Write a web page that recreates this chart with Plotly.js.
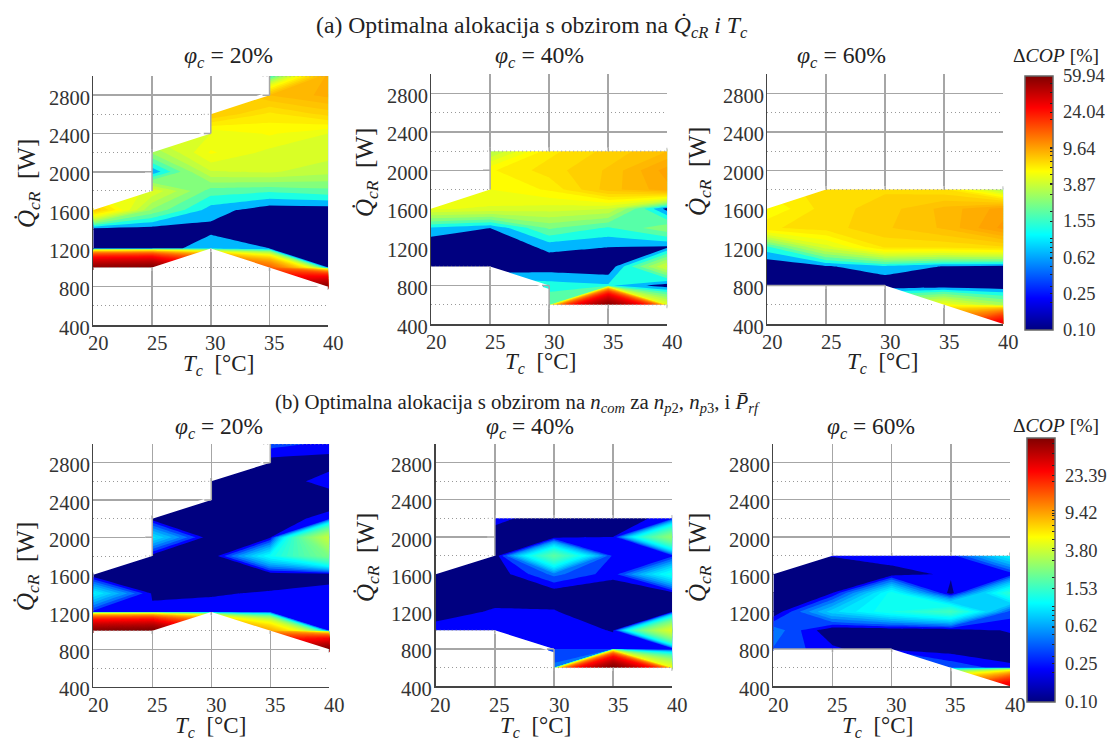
<!DOCTYPE html>
<html><head><meta charset="utf-8">
<script src="https://cdn.plot.ly/plotly-3.0.1.min.js"></script>
<style>html,body{margin:0;padding:0;background:#fff}#c{width:1110px;height:740px}</style></head>
<body><div id="c"></div>
<script>
const n = null;
const tempC = [20,25,30,35,40];
const loadW = [3000,2800,2600,2400,2200,2000,1800,1600,1400,1200,1000,800,600,400];
const yTicks = [400,800,1200,1600,2000,2400,2800];
const xTicks = [20,25,30,35,40];
const a20 = [[n,n,n,1.6,9.5],[n,n,n,8.5,9.3],[n,n,8,6.5,7.5],[n,n,4.9,5.6,4.9],[n,3.2,5.6,4.7,4.6],[n,.8,4.25,4.4,3.9],[n,4.8,2.2,2.0,2.3],[8,3,1.0,.3,.3],[.3,.35,.5,.15,.15],[.15,.15,1.2,.7,.15],[55,60,n,15,.7],[n,n,n,n,58],[n,n,n,n,n],[n,n,n,n,n]];
const a40 = [[n,n,n,n,n],[n,n,n,n,n],[n,n,n,n,n],[n,n,n,n,n],[n,3.5,6.5,7.5,8.5],[n,6,7,8,10],[n,5.5,6.2,8.2,9.5],[5,4.8,4.6,4.3,.4],[1.2,.7,2.6,1.8,3],[.1,.15,.85,.7,.6],[.1,.1,.3,.15,4.5],[n,n,1.6,1.4,.3],[n,n,2.5,58,5],[n,n,n,n,n]];
const a60 = [[n,n,n,n,n],[n,n,n,n,n],[n,n,n,n,n],[n,n,n,n,n],[n,n,n,n,n],[n,n,n,n,n],[n,7,7.2,6.8,3.5],[5.5,7,7.6,8.7,10],[6.6,7,7.8,8.6,10.5],[1.7,4.6,6.8,6.8,7.2],[.1,.6,1.2,.65,.5],[.1,.1,.1,.15,.1],[n,n,n,5.5,3.5],[n,n,n,n,32]];
const b20 = [[n,n,n,.4,.3],[n,n,n,.15,.15],[n,n,.1,.1,.3],[n,n,.1,.1,.1],[n,.15,.1,.1,.3],[n,1.0,.1,.2,3.8],[n,.15,.1,1.2,2.4],[.1,.1,.1,.1,.1],[1.1,.2,.2,.24,.33],[.28,.25,.3,.3,.3],[55,60,n,9,.3],[n,n,n,n,58],[n,n,n,n,n],[n,n,n,n,n]];
const b40 = [[n,n,n,n,n],[n,n,n,n,n],[n,n,n,n,n],[n,n,n,n,n],[n,.28,.1,.1,.3],[n,.12,.15,.22,2.8],[n,.1,2.0,.3,.3],[.1,.12,.5,.27,1.3],[.1,.1,.14,.1,.17],[.1,.25,.23,.1,.2],[.33,.3,.3,.21,4.5],[n,n,.34,.3,.2],[n,n,.5,58,5],[n,n,n,n,n]];
const b60 = [[n,n,n,n,n],[n,n,n,n,n],[n,n,n,n,n],[n,n,n,n,n],[n,n,n,n,n],[n,n,n,n,n],[n,.23,.3,.27,1.1],[.1,.1,.15,.25,.25],[.1,.22,1.25,.15,1.5],[.1,.9,1.3,1.7,.4],[.55,.1,.1,.12,.24],[.45,.25,.1,.14,.1],[n,n,n,.45,.26],[n,n,n,n,32]];
const cbTopVals = [0.10,0.25,0.62,1.55,3.87,9.64,24.04,59.94];
const cbBotVals = [0.10,0.25,0.62,1.53,3.80,9.42,23.39];
const cbMinor = [.2,.3,.4,.5,.6,.7,.8,.9,1,2,3,4,5,6,7,8,9,10,20,30,40,50];

const W=1110,H=740;
const jet=[[0,[0,0,128]],[.125,[0,0,255]],[.375,[0,255,255]],[.625,[255,255,0]],[.875,[255,0,0]],[1,[128,0,0]]];
function jetAt(t){t=Math.max(0,Math.min(1,t));for(let i=1;i<jet.length;i++){if(t<=jet[i][0]){const a=jet[i-1],b=jet[i],f=(t-a[0])/(b[0]-a[0]);return 'rgb('+a[1].map((c,j)=>Math.round(c+(b[1][j]-c)*f)).join(',')+')';}}return 'rgb(128,0,0)';}
const jetScale=jet.map(s=>[s[0],'rgb('+s[1].join(',')+')']);
function bandScale(start,end,size,vmax){
  const nc=Math.floor((end-start)/size)+1,lo=Math.log10(.1),hi=Math.log10(vmax),s=[];
  for(let k=0;k<=nc;k++){const v=Math.max(.1,start+(k-1)*size);s.push([k/nc,jetAt((Math.log10(v)-lo)/(hi-lo))]);}
  return s;
}
const topBand={start:.1,end:59.9,size:.6},botBand={start:.1,end:58,size:.12};
const panels=[
 {z:a20,x0:93.3,x1:328.3,y0:76,y1:325,b:topBand,vm:59.94,t:'20%',tx:228,ty:57,xtx:218,xty:365,ytx:28,yty:184,lab:343},
 {z:a40,x0:431,x1:667.3,y0:74.3,y1:324,b:topBand,vm:59.94,t:'40%',tx:539,ty:57,xtx:540,xty:363,ytx:367,yty:173,lab:342},
 {z:a60,x0:767,x1:1003.3,y0:74.3,y1:324,b:topBand,vm:59.94,t:'60%',tx:841,ty:57,xtx:882,xty:363,ytx:699,yty:172,lab:342},
 {z:b20,x0:93.3,x1:329.3,y0:444,y1:686.7,b:botBand,vm:58,t:'20%',tx:219,ty:428,xtx:210,xty:727,ytx:27,yty:567,lab:705},
 {z:b40,x0:435.7,x1:672.3,y0:443.7,y1:686.3,b:botBand,vm:58,t:'40%',tx:530,ty:428,xtx:535,xty:727,ytx:367,yty:558,lab:705},
 {z:b60,x0:773.3,x1:1010,y0:443.7,y1:686.3,b:botBand,vm:58,t:'60%',tx:871,ty:428,xtx:877,xty:727,ytx:699,yty:558,lab:705}
];
const serif='Liberation Serif',ink='#333';
const data=[],layout={width:W,height:H,margin:{l:0,r:0,t:0,b:0},paper_bgcolor:'#fff',plot_bgcolor:'#fff',showlegend:false,font:{family:serif,color:ink,size:20},annotations:[]};
const note=(text,x,y,size,angle,anchor,color)=>layout.annotations.push({text,x:x/W,y:1-y/H,xref:'paper',yref:'paper',xanchor:anchor||'center',yanchor:'middle',showarrow:false,borderpad:0,font:{family:serif,size,color:color||'#222'},textangle:angle||0});
const gridCol='#a6a6a6',dotCol='#999';
function edgePath(z,side){
  const ys=tempC.map((_,c)=>{const v=loadW.filter((_,r)=>z[r][c]!==null);return side>0?Math.max(...v):Math.min(...v);});
  const p=[[tempC[0],ys[0]]];
  for(let i=1;i<ys.length;i++){
    const d=ys[i]-ys[i-1];
    if(Math.abs(d)>200)p.push([tempC[i],ys[i-1]+Math.sign(d)*200]);
    p.push([tempC[i],ys[i]]);
  }
  return {p,ys};
}
function edgeTraces(z,id){
  const dy=35,dx=.6,wx=[],wy=[],gx=[],gy=[],mx=[],my=[];
  const seg=(ax,ay,x,y)=>{ax.push(x[0],x[1],null);ay.push(y[0],y[1],null);};
  [1,-1].forEach(side=>{
    const {p,ys}=edgePath(z,side);
    p.forEach(q=>{wx.push(q[0]);wy.push(q[1]);});
    p.slice().reverse().forEach(q=>{wx.push(q[0]);wy.push(q[1]+side*dy);});
    wx.push(null);wy.push(null);
    tempC.forEach((x,c)=>{if(c>0)seg(gx,gy,[x,x],[ys[c],ys[c]+side*dy]);});
    for(let i=1;i<p.length;i++){
      const a=p[i-1],b=p[i];
      if(a[0]===b[0]){
        const lo=Math.min(a[1],b[1]),hi=Math.max(a[1],b[1]);
        const yl=side<0?lo-dy:lo,yh=side>0?hi+dy:hi;
        wx.push(b[0]-dx,b[0],b[0],b[0]-dx,b[0]-dx,null);wy.push(yl,yl,yh,yh,yl,null);
        seg(gx,gy,[b[0],b[0]],[yl,yh]);
        loadW.filter(y=>y>=yl&&y<=yh).forEach(y=>{
          if(yTicks.includes(y))seg(gx,gy,[b[0]-dx,b[0]],[y,y]);else seg(mx,my,[b[0]-dx,b[0]],[y,y]);
        });
      } else if(a[1]===b[1]){
        if(yTicks.includes(a[1]))seg(gx,gy,[a[0],b[0]],[a[1],a[1]]);else seg(mx,my,[a[0],b[0]],[a[1],a[1]]);
      }
    }
  });
  const base={type:'scatter',xaxis:'x'+id,yaxis:'y'+id,hoverinfo:'skip',mode:'lines'};
  return [
    {...base,x:wx,y:wy,fill:'toself',fillcolor:'#fff',line:{width:0}},
    {...base,x:gx,y:gy,line:{color:gridCol,width:1.5}},
    {...base,x:mx,y:my,line:{color:dotCol,width:1,dash:'1px,3px'}}
  ];
}
panels.forEach((p,i)=>{
  const id=i?String(i+1):'',xa='xaxis'+id,ya='yaxis'+id;
  const big=i<3?23.7:23.4;
  layout[xa]={domain:[p.x0/W,p.x1/W],range:[20,40],anchor:'y'+id,tickvals:xTicks,ticks:'',showticklabels:false,showgrid:true,gridcolor:gridCol,gridwidth:1.5,zeroline:false,showline:true,linecolor:'#444',linewidth:1.5,fixedrange:true};
  layout[ya]={domain:[1-p.y1/H,1-p.y0/H],range:[400,3000],anchor:'x'+id,tickvals:yTicks,ticks:'',showticklabels:false,showgrid:true,gridcolor:gridCol,gridwidth:1.5,zeroline:false,showline:true,linecolor:'#444',linewidth:1.5,fixedrange:true,
    minor:{showgrid:true,griddash:'1px,3px',gridcolor:dotCol,gridwidth:1,dtick:400,tick0:600,ticks:''}};
  data.push({type:'contour',x:tempC,y:loadW,z:p.z,xaxis:'x'+id,yaxis:'y'+id,connectgaps:false,autocontour:false,showscale:false,hoverinfo:'skip',
    contours:{coloring:'fill',start:p.b.start,end:p.b.end,size:p.b.size,showlines:false},line:{width:0,smoothing:0},
    colorscale:bandScale(p.b.start,p.b.end,p.b.size,p.vm)});
  data.push(...edgeTraces(p.z,id));
  xTicks.forEach(v=>note(String(v),p.x0+(v-20)/20*(p.x1-p.x0)+5,p.lab,20.5,0,'center',ink));
  yTicks.forEach(v=>note(String(v),p.x0-2.5,p.y1-(v-400)/2600*(p.y1-p.y0)+2.5,20.5,0,'right',ink));
  note('<i>φ</i><sub><i>c</i></sub> = '+p.t,p.tx,p.ty,big);
  note('<i>T</i><sub><i>c</i></sub>  [°C]',p.xtx,p.xty,23);
  note('<i>Q̇</i><sub><i>cR</i></sub>  [W]',p.ytx,p.yty,25,-90);
});
function colorbarTrace(vals,minor,vmax,x0,x1,y0,y1,ax){
  const lo=Math.log10(.1),hi=Math.log10(vmax);
  const extra=minor.filter(v=>v<=vmax);
  vals.forEach(v=>note(v.toFixed(2),x1+9,y1-(Math.log10(v)-lo)/(hi-lo)*(y1-y0),18.5,0,'left',ink));
  return {type:'scatter',mode:'markers',x:[0,0],y:[0,0],xaxis:'x'+ax,yaxis:'y'+ax,hoverinfo:'skip',
    marker:{size:1,opacity:0,color:[lo,hi],cmin:lo,cmax:hi,colorscale:jetScale,showscale:true,
      colorbar:{x:x0/W,xanchor:'left',xref:'paper',thickness:x1-x0,thicknessmode:'pixels',y:1-y1/H,yanchor:'bottom',yref:'paper',len:(y1-y0)/H,lenmode:'fraction',xpad:0,ypad:0,
        outlinecolor:'#666',outlinewidth:1.5,borderwidth:0,ticks:'inside',ticklen:3,tickwidth:1,tickcolor:'#222',showticklabels:false,
        tickmode:'array',tickvals:vals.concat(extra).map(v=>Math.log10(v))}}};
}
data.push(colorbarTrace(cbTopVals,cbMinor,59.94,1025,1052.7,76,330,''));
data.push(colorbarTrace(cbBotVals,cbMinor,58,1026.7,1054.7,438,701.7,'4'));
note('(a) Optimalna alokacija s obzirom na <i>Q̇</i><sub><i>cR</i></sub> <i>i</i> <i>T</i><sub><i>c</i></sub>',532,27,23.7);
note('(b) Optimalna alokacija s obzirom na <i>n</i><sub><i>com</i></sub> za <i>n</i><sub><i>p</i>2</sub>, <i>n</i><sub><i>p</i>3</sub>, i <i>P̄</i><sub><i>rf</i></sub>',517,403,20.8);
note('Δ<i>COP</i> [%]',1056,55,19.6);
note('Δ<i>COP</i> [%]',1056,425,19.6);
Plotly.newPlot('c',data,layout,{displayModeBar:false,staticPlot:true});
</script></body></html>
